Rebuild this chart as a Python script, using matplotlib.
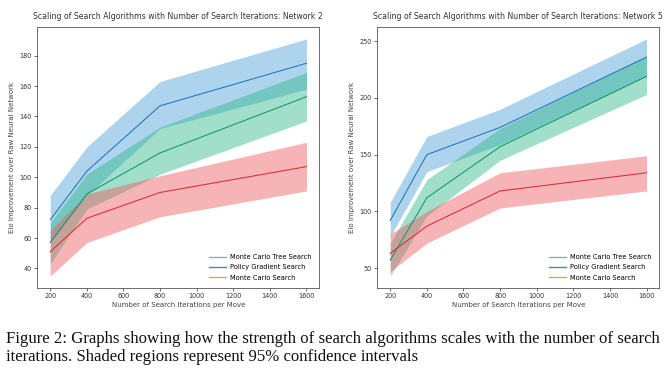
import matplotlib
matplotlib.use("Agg")
import matplotlib.pyplot as plt
import numpy as np

iters = [200, 400, 800, 1600]
xticks = [200, 400, 600, 800, 1000, 1200, 1400, 1600]
labels = ["Monte Carlo Tree Search", "Policy Gradient Search", "Monte Carlo Search"]

# Network 2
n2_mcts = [72, 104, 147, 175]
n2_mcts_lo = [57, 88, 132, 158]
n2_mcts_hi = [88, 120, 163, 191]
n2_pgs = [57, 89, 116, 153]
n2_pgs_lo = [43, 79, 102, 137]
n2_pgs_hi = [70, 102, 133, 169]
n2_mcs = [51, 73, 90, 107]
n2_mcs_lo = [35, 57, 74, 91]
n2_mcs_hi = [65, 89, 101, 123]

# Network 5
n5_mcts = [92, 150, 174, 236]
n5_mcts_lo = [78, 135, 159, 219]
n5_mcts_hi = [108, 166, 190, 252]
n5_pgs = [57, 112, 157, 219]
n5_pgs_lo = [43, 96, 145, 203]
n5_pgs_hi = [72, 128, 173, 237]
n5_mcs = [63, 87, 118, 134]
n5_mcs_lo = [47, 72, 103, 118]
n5_mcs_hi = [80, 100, 134, 149]

titles = ["Scaling of Search Algorithms with Number of Search Iterations: Network 2",
          "Scaling of Search Algorithms with Number of Search Iterations: Network 5"]
xlabel = "Number of Search Iterations per Move"
ylabel = "Elo Improvement over Raw Neural Network"
caption_lines = ["Figure 2: Graphs showing how the strength of search algorithms scales with the number of search",
                 "iterations. Shaded regions represent 95% confidence intervals"]

line_colors = ["#2b7bba", "#1a9a72", "#d8343a"]
fill_colors = ["#4a9fd8", "#2fb98a", "#ee5a5e"]
legend_colors = ["#9aa6b2", "#3f9a84", "#e89a7a"]

fig = plt.figure(figsize=(6.68, 3.71), dpi=100)
fig.patch.set_facecolor("white")

axes_pos = [[0.056, 0.224, 0.422, 0.703], [0.565, 0.224, 0.422, 0.703]]
data = [
    [(n2_mcts, n2_mcts_lo, n2_mcts_hi), (n2_pgs, n2_pgs_lo, n2_pgs_hi), (n2_mcs, n2_mcs_lo, n2_mcs_hi)],
    [(n5_mcts, n5_mcts_lo, n5_mcts_hi), (n5_pgs, n5_pgs_lo, n5_pgs_hi), (n5_mcs, n5_mcs_lo, n5_mcs_hi)],
]
yticks = [[40, 60, 80, 100, 120, 140, 160, 180], [50, 100, 150, 200, 250]]

fs = 4.7
for i in range(2):
    ax = fig.add_axes(axes_pos[i])
    for j, (m, lo, hi) in enumerate(data[i]):
        ax.fill_between(iters, lo, hi, color=fill_colors[j], alpha=0.45, linewidth=0)
        ax.plot(iters, m, color=line_colors[j], linewidth=0.8)
    ax.set_xticks(xticks)
    ax.set_yticks(yticks[i])
    ax.tick_params(labelsize=fs, length=2, width=0.5, colors="#333333", pad=2)
    for s in ax.spines.values():
        s.set_linewidth(0.6)
        s.set_color("#555555")
    ax.set_title(titles[i], fontsize=5.6, color="#333333", pad=5.5)
    ax.set_xlabel(xlabel, fontsize=5.0, color="#444444", labelpad=2)
    ax.set_ylabel(ylabel, fontsize=5.0, color="#444444", labelpad=3)
    handles = [plt.Line2D([], [], color=c, linewidth=1.0) for c in legend_colors]
    ax.legend(handles, labels, loc="lower right", frameon=False, fontsize=4.8,
              handlelength=2.6, handletextpad=0.6, labelspacing=0.62, borderaxespad=0.7)

fig.text(0.009, 1 - 339 / 371, caption_lines[0], fontsize=12.1, family="Liberation Serif",
         color="#111111", va="center", ha="left")
fig.text(0.009, 1 - 357 / 371, caption_lines[1], fontsize=12.1, family="Liberation Serif",
         color="#111111", va="center", ha="left")

fig.savefig("out.png", dpi=100, facecolor="white")
